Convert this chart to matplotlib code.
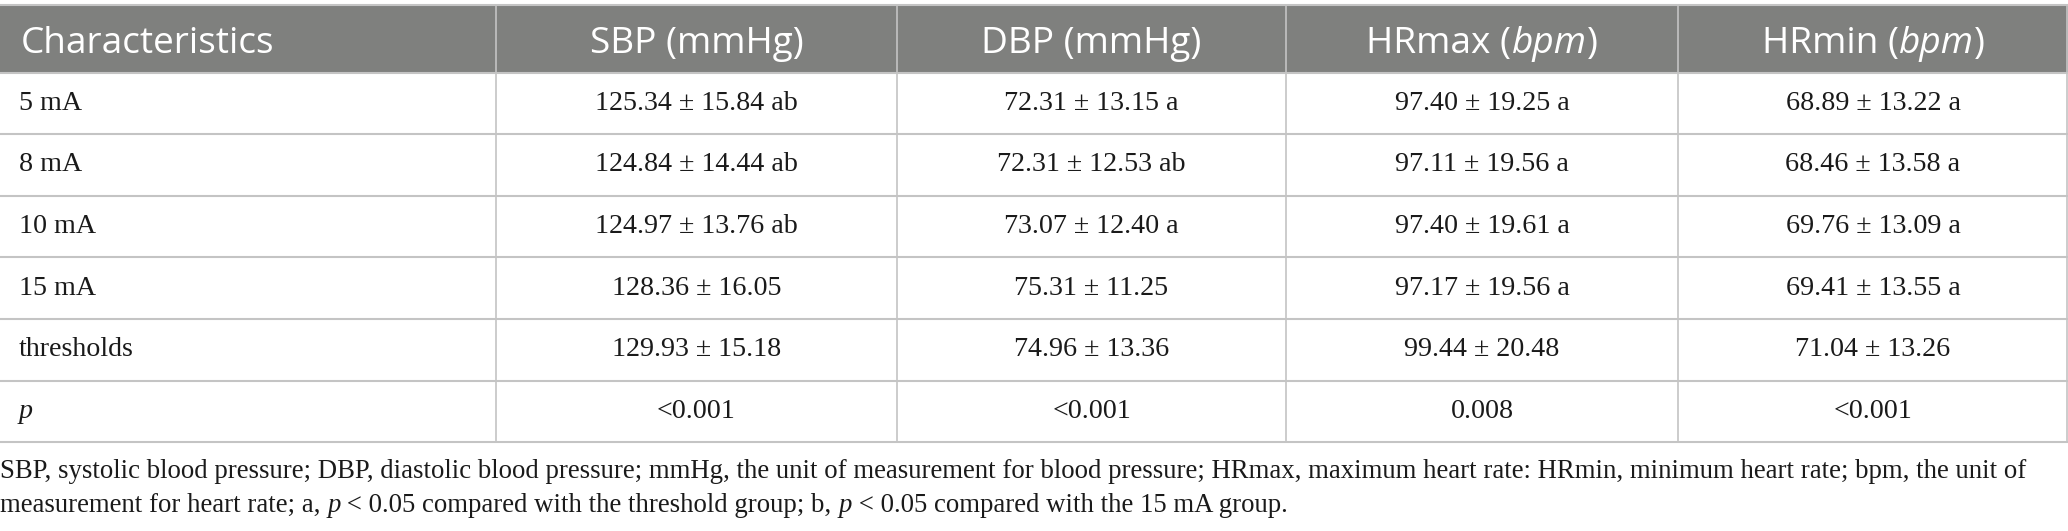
import matplotlib
matplotlib.use("Agg")
import matplotlib.pyplot as plt
from matplotlib.patches import Rectangle

# ---------------- data ----------------
headers = [
    [("Characteristics", "normal")],
    [("SBP (mmHg)", "normal")],
    [("DBP (mmHg)", "normal")],
    [("HRmax (", "normal"), ("bpm", "italic"), (")", "normal")],
    [("HRmin (", "normal"), ("bpm", "italic"), (")", "normal")],
]
groups = ["5 mA", "8 mA", "10 mA", "15 mA", "thresholds"]
sbp = ["125.34 ± 15.84 ab", "124.84 ± 14.44 ab", "124.97 ± 13.76 ab", "128.36 ± 16.05", "129.93 ± 15.18"]
dbp = ["72.31 ± 13.15 a", "72.31 ± 12.53 ab", "73.07 ± 12.40 a", "75.31 ± 11.25", "74.96 ± 13.36"]
hrmax = ["97.40 ± 19.25 a", "97.11 ± 19.56 a", "97.40 ± 19.61 a", "97.17 ± 19.56 a", "99.44 ± 20.48"]
hrmin = ["68.89 ± 13.22 a", "68.46 ± 13.58 a", "69.76 ± 13.09 a", "69.41 ± 13.55 a", "71.04 ± 13.26"]
p_label = "p"
p_values = ["<0.001", "<0.001", "0.008", "<0.001"]
footnote1 = [("SBP, systolic blood pressure; DBP, diastolic blood pressure; mmHg, the unit of measurement for blood pressure; "
              "HRmax, maximum heart rate: HRmin, minimum heart rate; bpm, the unit of", "normal")]
footnote2 = [("measurement for heart rate; a, ", "normal"), ("p", "italic"),
             (" < 0.05 compared with the threshold group; b, ", "normal"), ("p", "italic"),
             (" < 0.05 compared with the 15 mA group.", "normal")]

# ---------------- layout ----------------
W, H = 2068, 531
DPI = 100
fig = plt.figure(figsize=(W / DPI, H / DPI), dpi=DPI)
ax = fig.add_axes([0, 0, 1, 1])
ax.set_xlim(0, W)
ax.set_ylim(H, 0)
ax.axis("off")

col_edges = [0, 496, 897, 1286, 1678, W]
table_top = 5
header_bottom = 72.5
row_h = 61.6
n_rows = len(groups) + 1
row_edges = [header_bottom + i * row_h for i in range(n_rows + 1)]

HEADER_BG = "#7f807e"
LINE = "#c4c4c4"
TEXT = "#1a1a1a"

HEAD_FONT = "Open Sans"
BODY_FONT = "Liberation Serif"
head_px = 37
body_px = 28
foot_px = 26.8

def pt(px):
    return px * 72 / DPI

renderer = fig.canvas.get_renderer()

def draw_runs(x, y, parts, ha, family, size_px, color, va="center"):
    texts = []
    widths = []
    for s, style in parts:
        t = ax.text(0, y, s, family=family, style=style, fontsize=pt(size_px),
                    color=color, va=va, ha="left")
        texts.append(t)
        widths.append(t.get_window_extent(renderer=renderer).width)
    total = sum(widths)
    if ha == "center":
        x0 = x - total / 2
    elif ha == "right":
        x0 = x - total
    else:
        x0 = x
    for t, w in zip(texts, widths):
        t.set_x(x0)
        x0 += w

# header background
ax.add_patch(Rectangle((0, table_top), W, header_bottom - table_top,
                       facecolor=HEADER_BG, edgecolor="none"))

# header texts (baseline placed)
hy = 53
for j, parts in enumerate(headers):
    if j == 0:
        draw_runs(col_edges[0] + 21, hy, parts, "left", HEAD_FONT, head_px, "white", va="baseline")
    else:
        cx = (col_edges[j] + col_edges[j + 1]) / 2
        draw_runs(cx, hy, parts, "center", HEAD_FONT, head_px, "white", va="baseline")

# body
columns = [sbp, dbp, hrmax, hrmin]
for i, g in enumerate(groups):
    cy = (row_edges[i] + row_edges[i + 1]) / 2
    draw_runs(col_edges[0] + 19, cy, [(g, "normal")], "left", BODY_FONT, body_px, TEXT)
    for j, col in enumerate(columns):
        cx = (col_edges[j + 1] + col_edges[j + 2]) / 2
        draw_runs(cx, cy, [(col[i], "normal")], "center", BODY_FONT, body_px, TEXT)

# p row
i = len(groups)
cy = (row_edges[i] + row_edges[i + 1]) / 2
draw_runs(col_edges[0] + 19, cy, [(p_label, "italic")], "left", BODY_FONT, body_px, TEXT)
for j, pv in enumerate(p_values):
    cx = (col_edges[j + 1] + col_edges[j + 2]) / 2
    draw_runs(cx, cy, [(pv, "normal")], "center", BODY_FONT, body_px, TEXT)

# grid lines
for k, yv in enumerate(row_edges):
    ax.plot([0, W], [yv, yv], color=LINE, lw=1.5, solid_capstyle="butt")
ax.plot([0, W], [table_top, table_top], color=LINE, lw=1.5)
for xv in col_edges[1:-1]:
    ax.plot([xv, xv], [table_top, row_edges[-1]], color=LINE, lw=1.2)
ax.plot([W - 1, W - 1], [table_top, row_edges[-1]], color=LINE, lw=1.2)

# footnotes
draw_runs(0, 471, footnote1, "left", BODY_FONT, foot_px, TEXT)
draw_runs(0, 505, footnote2, "left", BODY_FONT, foot_px, TEXT)

fig.savefig("out.png", dpi=DPI)
